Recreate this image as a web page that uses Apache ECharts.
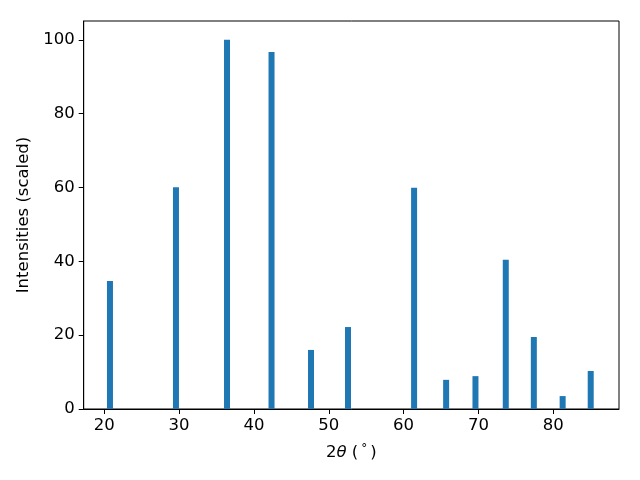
<!DOCTYPE html>
<html>
<head>
<meta charset="utf-8">
<script src="https://cdn.jsdelivr.net/npm/echarts@6/dist/echarts.min.js"></script>
<style>html,body{margin:0;padding:0;background:#fff}#c{width:640px;height:480px}</style>
</head>
<body>
<div id="c"></div>
<script>
const twoTheta = [20.76, 29.58, 36.4, 42.35, 47.62, 52.57, 61.4, 65.68, 69.6, 73.65, 77.4, 81.25, 85.0];
const intensities = [34.7, 60.1, 100, 96.7, 16.0, 22.2, 59.9, 7.9, 8.9, 40.4, 19.5, 3.5, 10.3];
const xTicks = [20, 30, 40, 50, 60, 70, 80];
const yTicks = [0, 20, 40, 60, 80, 100];

const chart = echarts.init(document.getElementById('c'), null, {renderer: 'canvas'});
const font = 'DejaVu Sans';
const fs = 16.5;
chart.setOption({
  animation: false,
  grid: {left: 83.7, right: 21, top: 21, bottom: 71, show: true, borderColor: '#000', borderWidth: 1, backgroundColor: 'transparent'},
  xAxis: {
    type: 'value', min: 17.25, max: 88.78,
    splitLine: {show: false},
    axisLine: {show: true, lineStyle: {color: '#000', width: 1}},
    axisTick: {show: true, length: 5, lineStyle: {color: '#000'}, customValues: xTicks},
    axisLabel: {color: '#000', fontFamily: font, fontSize: fs, margin: 8, customValues: xTicks},
    name: '2{i|θ} ({s|°})',
    nameLocation: 'middle', nameGap: 34,
    nameTextStyle: {color: '#000', fontFamily: font, fontSize: fs,
      rich: {i: {fontStyle: 'italic', fontFamily: font, fontSize: fs, color: '#000'},
             s: {fontSize: 12, verticalAlign: 'top', padding: [0,3,8,3], fontFamily: font, color: '#000'}}}
  },
  yAxis: {
    type: 'value', min: 0, max: 105.1,
    splitLine: {show: false},
    axisLine: {show: true, lineStyle: {color: '#000', width: 1}},
    axisTick: {show: true, length: 5, lineStyle: {color: '#000'}, customValues: yTicks},
    axisLabel: {color: '#000', fontFamily: font, fontSize: fs, margin: 9, customValues: yTicks},
    name: 'Intensities (scaled)',
    nameLocation: 'middle', nameGap: 48,
    nameTextStyle: {color: '#000', fontFamily: font, fontSize: fs}
  },
  series: [{
    type: 'bar',
    data: twoTheta.map((x, i) => [x, intensities[i]]),
    barWidth: 6,
    itemStyle: {color: '#1f77b4'}
  }]
});
</script>
</body>
</html>
